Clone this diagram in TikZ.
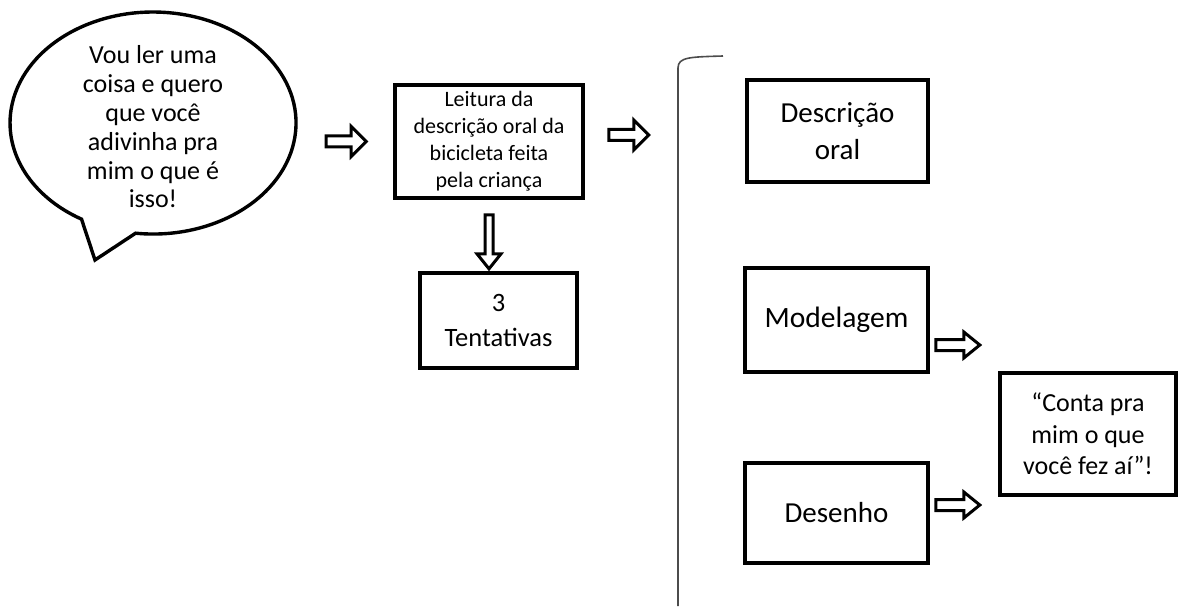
\documentclass[tikz,border=0pt]{standalone}
\usepackage{fontspec}
\setmainfont{Carlito}
\usetikzlibrary{calc}

\tikzset{
  box/.style={draw,line width=3.6pt,align=center,inner sep=0pt},
  hollow/.style={draw,line width=3pt,fill=white,line join=miter},
  rarr/.pic={\draw[hollow] (0,-5.5) -- (25,-5.5) -- (25,-15) -- (40,0) -- (25,15) -- (25,5.5) -- (0,5.5) -- cycle;},
  sarr/.pic={\draw[hollow] (0,-5.5) -- (28,-5.5) -- (28,-13) -- (44,0) -- (28,13) -- (28,5.5) -- (0,5.5) -- cycle;},
  darr/.pic={\draw[hollow] (-4,0) -- (-4,39) -- (-12,39) -- (0,54) -- (12,39) -- (4,39) -- (4,0) -- cycle;},
}

\begin{document}
\begin{tikzpicture}[x=1pt,y=-1pt]

  \useasboundingbox (0,0) rectangle (1179,607);

  % balao de fala
  \draw[line width=3.4pt,line join=miter] (95,260) -- (135.6,233.2)
    arc[start angle=97,end angle=-240,x radius=143,y radius=111] -- cycle;
  \node (bubble) at (153,127) [align=center,font=\fontsize{26}{28.8}\selectfont]
    {Vou ler uma\\coisa e quero\\que você\\adivinha pra\\mim o que é\\isso!};

  \node (leitura) at (489,141.5) [box,minimum width=188,minimum height=113,
    font=\fontsize{22}{27}\selectfont]
    {Leitura da\\descrição oral da\\bicicleta feita\\pela criança};
  \node (tent) at (498.5,320.5) [box,minimum width=157,minimum height=95,
    font=\fontsize{26.5}{35}\selectfont] {3\\Tentativas};

  \pic at ($(leitura.west)+(-67,0)$) {rarr};
  \pic at ($(leitura.east)+(24,-6.5)$) {rarr};
  \pic at ($(leitura.south)+(0,15)$) {darr};

  % chave
  \draw[line width=1.6pt,black!70] (723,56) .. controls (690,57) and (678,57) .. (678,68) -- (678,606);

  \node (descr) at (837.5,131) [box,minimum width=181,minimum height=102,
    font=\fontsize{29}{37}\selectfont] {Descrição\\oral};
  \node (model) at (836.5,320) [box,minimum width=183,minimum height=104,
    font=\fontsize{29.5}{37}\selectfont] {Modelagem};
  \node (desenho) at (836.5,513) [box,minimum width=183,minimum height=100,
    font=\fontsize{29}{37}\selectfont] {Desenho};
  \node (conta) at (1088,434) [box,minimum width=176,minimum height=122,
    font=\fontsize{26}{31.5}\selectfont] {“Conta pra\\mim o que\\você fez aí”!};

  \pic at ($(model.east)+(6,25)$) {sarr};
  \pic at ($(desenho.east)+(6,-8)$) {sarr};

\end{tikzpicture}
\end{document}
